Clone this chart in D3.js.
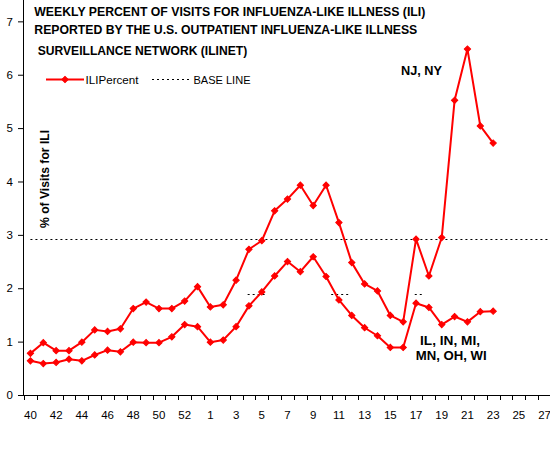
<!DOCTYPE html>
<html>
<head>
<meta charset="utf-8">
<script src="https://cdn.jsdelivr.net/npm/d3@7"></script>
<style>
  html, body { margin: 0; padding: 0; background: #fff; }
  svg { display: block; font-family: "Liberation Sans", Arial, sans-serif; }
</style>
</head>
<body>
<svg id="chart" width="550" height="450"></svg>
<script>
// ---- data ----
const weeks = [40,41,42,43,44,45,46,47,48,49,50,51,52,53,1,2,3,4,5,6,7,8,9,10,11,12,13,14,15,16,17,18,19,20,21,22,23,24,25,26,27];
// NJ, NY region
const seriesNJNY = [0.78,0.98,0.83,0.83,0.99,1.22,1.19,1.24,1.62,1.74,1.62,1.62,1.76,2.03,1.65,1.69,2.15,2.73,2.89,3.45,3.67,3.93,3.55,3.93,3.23,2.48,2.08,1.95,1.49,1.37,2.92,2.23,2.95,5.52,6.48,5.04,4.72];
// IL, IN, MI, MN, OH, WI region
const seriesMidwest = [0.64,0.59,0.61,0.67,0.64,0.75,0.84,0.81,0.99,0.98,0.98,1.09,1.32,1.28,0.99,1.03,1.28,1.67,1.93,2.23,2.50,2.31,2.59,2.22,1.78,1.49,1.26,1.11,0.89,0.89,1.72,1.64,1.32,1.47,1.37,1.56,1.57];
const baselineNJNY = 2.92;
const baselineMidwest = 1.90;
// visible pieces of the Midwest baseline, in week-index units
const baselineMidwestPieces = [[16.9, 18.4], [23.4, 24.9], [29.9, 30.6]];
const yTicks = [0,1,2,3,4,5,6,7];
const titleLines = [
  "WEEKLY PERCENT OF VISITS FOR INFLUENZA-LIKE ILLNESS (ILI)",
  "REPORTED BY THE U.S. OUTPATIENT INFLUENZA-LIKE ILLNESS",
  "SURVEILLANCE NETWORK (ILINET)"
];
const yLabel = "% of Visits for ILI";
const legendItems = ["ILIPercent", "BASE LINE"];
const annotNJNY = ["NJ, NY"];
const annotMidwest = ["IL, IN, MI,", "MN, OH, WI"];

// ---- layout ----
const svg = d3.select("#chart");
const left = 24, right = 551, bottom = 395;
const RED = "#ff0000";

const x = d3.scaleBand().domain(weeks.map(String)).range([left, right]).padding(0);
const xi = d3.scaleLinear().domain([0, weeks.length]).range([left, right]);
const y = d3.scaleLinear().domain([0, 7.4]).range([bottom, 0]);
const cx = i => x(String(weeks[i])) + x.bandwidth() / 2;

// y axis
const yAxis = d3.axisLeft(y).tickValues(yTicks).tickSize(6).tickPadding(5).tickFormat(d3.format("d"));
const gy = svg.append("g").attr("transform", `translate(${left},0)`).call(yAxis);
gy.select(".domain").attr("d", `M-0.5,${bottom}V0`).attr("stroke", "#000");
gy.selectAll(".tick line").attr("stroke", "#000");
gy.selectAll(".tick text").attr("font-size", 11.5).attr("fill", "#000")
  .attr("font-family", "Liberation Sans, Arial, sans-serif");

// x axis: labels centered in band, every other week
const xAxis = d3.axisBottom(x).tickSize(0).tickPadding(0)
  .tickFormat((d, i) => (i % 2 === 0 ? d : ""));
const gx = svg.append("g").attr("transform", `translate(0,${bottom})`).call(xAxis);
gx.select(".domain").remove();
gx.selectAll(".tick text").attr("font-size", 11.5).attr("fill", "#000")
  .attr("y", 0).attr("dy", "23.5")
  .attr("font-family", "Liberation Sans, Arial, sans-serif");
svg.append("line").attr("x1", left).attr("x2", right).attr("y1", bottom + 0.5).attr("y2", bottom + 0.5)
  .attr("stroke", "#000");
// tick marks at band boundaries
svg.append("g").selectAll("line").data(d3.range(weeks.length + 1)).join("line")
  .attr("x1", i => Math.round(xi(i)) + 0.5).attr("x2", i => Math.round(xi(i)) + 0.5)
  .attr("y1", bottom).attr("y2", bottom + 5).attr("stroke", "#000");

// baselines
svg.append("line")
  .attr("x1", cx(0)).attr("x2", 550)
  .attr("y1", Math.round(y(baselineNJNY)) + 0.5).attr("y2", Math.round(y(baselineNJNY)) + 0.5)
  .attr("stroke", "#000").attr("stroke-width", 1).attr("stroke-dasharray", "2,3");
svg.append("g").selectAll("line").data(baselineMidwestPieces).join("line")
  .attr("x1", d => xi(d[0] + 0.5)).attr("x2", d => xi(d[1] + 0.5))
  .attr("y1", Math.round(y(baselineMidwest)) + 0.5).attr("y2", Math.round(y(baselineMidwest)) + 0.5)
  .attr("stroke", "#000").attr("stroke-width", 1).attr("stroke-dasharray", "2,3");

// series
const line = d3.line().x((d, i) => cx(i)).y(d => y(d));
const marker = d3.symbol(d3.symbolSquare, 20);
[seriesMidwest, seriesNJNY].forEach(s => {
  svg.append("path").datum(s).attr("d", line).attr("fill", "none")
    .attr("stroke", RED).attr("stroke-width", 2).attr("stroke-linejoin", "round");
  svg.append("g").selectAll("path").data(s).join("path")
    .attr("d", marker)
    .attr("transform", (d, i) => `translate(${cx(i)},${y(d)}) rotate(45)`)
    .attr("fill", RED).attr("stroke", RED).attr("stroke-width", 1);
});

// title
const titleLen = [391, 383, 209.5];
svg.append("g").selectAll("text").data(titleLines).join("text")
  .attr("x", (d, i) => (i === 2 ? 37.7 : 34.3))
  .attr("y", (d, i) => [16, 33.5, 55][i])
  .attr("font-size", 12).attr("font-weight", "bold").attr("fill", "#000")
  .attr("textLength", (d, i) => titleLen[i]).attr("lengthAdjust", "spacingAndGlyphs")
  .text(d => d);

// y label
svg.append("text")
  .attr("transform", "translate(48.5,228) rotate(-90)")
  .attr("font-size", 12).attr("font-weight", "bold").attr("fill", "#000")
  .attr("textLength", 98).attr("lengthAdjust", "spacingAndGlyphs")
  .text(yLabel);

// legend
const lg = svg.append("g");
lg.append("line").attr("x1", 46).attr("x2", 84).attr("y1", 79.5).attr("y2", 79.5)
  .attr("stroke", RED).attr("stroke-width", 2);
lg.append("path").attr("d", marker).attr("transform", "translate(65,79.5) rotate(45)")
  .attr("fill", RED).attr("stroke", RED);
lg.append("text").attr("x", 85.5).attr("y", 83.5).attr("font-size", 11.5)
  .attr("textLength", 53).attr("lengthAdjust", "spacingAndGlyphs").text(legendItems[0]);
lg.append("line").attr("x1", 152).attr("x2", 189).attr("y1", 79.5).attr("y2", 79.5)
  .attr("stroke", "#000").attr("stroke-dasharray", "2,3");
lg.append("text").attr("x", 193.5).attr("y", 83.5).attr("font-size", 11.5)
  .attr("textLength", 57).attr("lengthAdjust", "spacingAndGlyphs").text(legendItems[1]);

// annotations
svg.append("g").selectAll("text").data(annotNJNY).join("text")
  .attr("x", 401).attr("y", 75).attr("font-size", 12.5).attr("font-weight", "bold")
  .attr("textLength", 41).attr("lengthAdjust", "spacingAndGlyphs").text(d => d);
const midLen = [60, 71];
svg.append("g").selectAll("text").data(annotMidwest).join("text")
  .attr("x", (d, i) => (i === 0 ? 420 : 415.7)).attr("y", (d, i) => [345, 360][i])
  .attr("font-size", 12.5).attr("font-weight", "bold")
  .attr("textLength", (d, i) => midLen[i]).attr("lengthAdjust", "spacingAndGlyphs").text(d => d);
</script>
</body>
</html>
